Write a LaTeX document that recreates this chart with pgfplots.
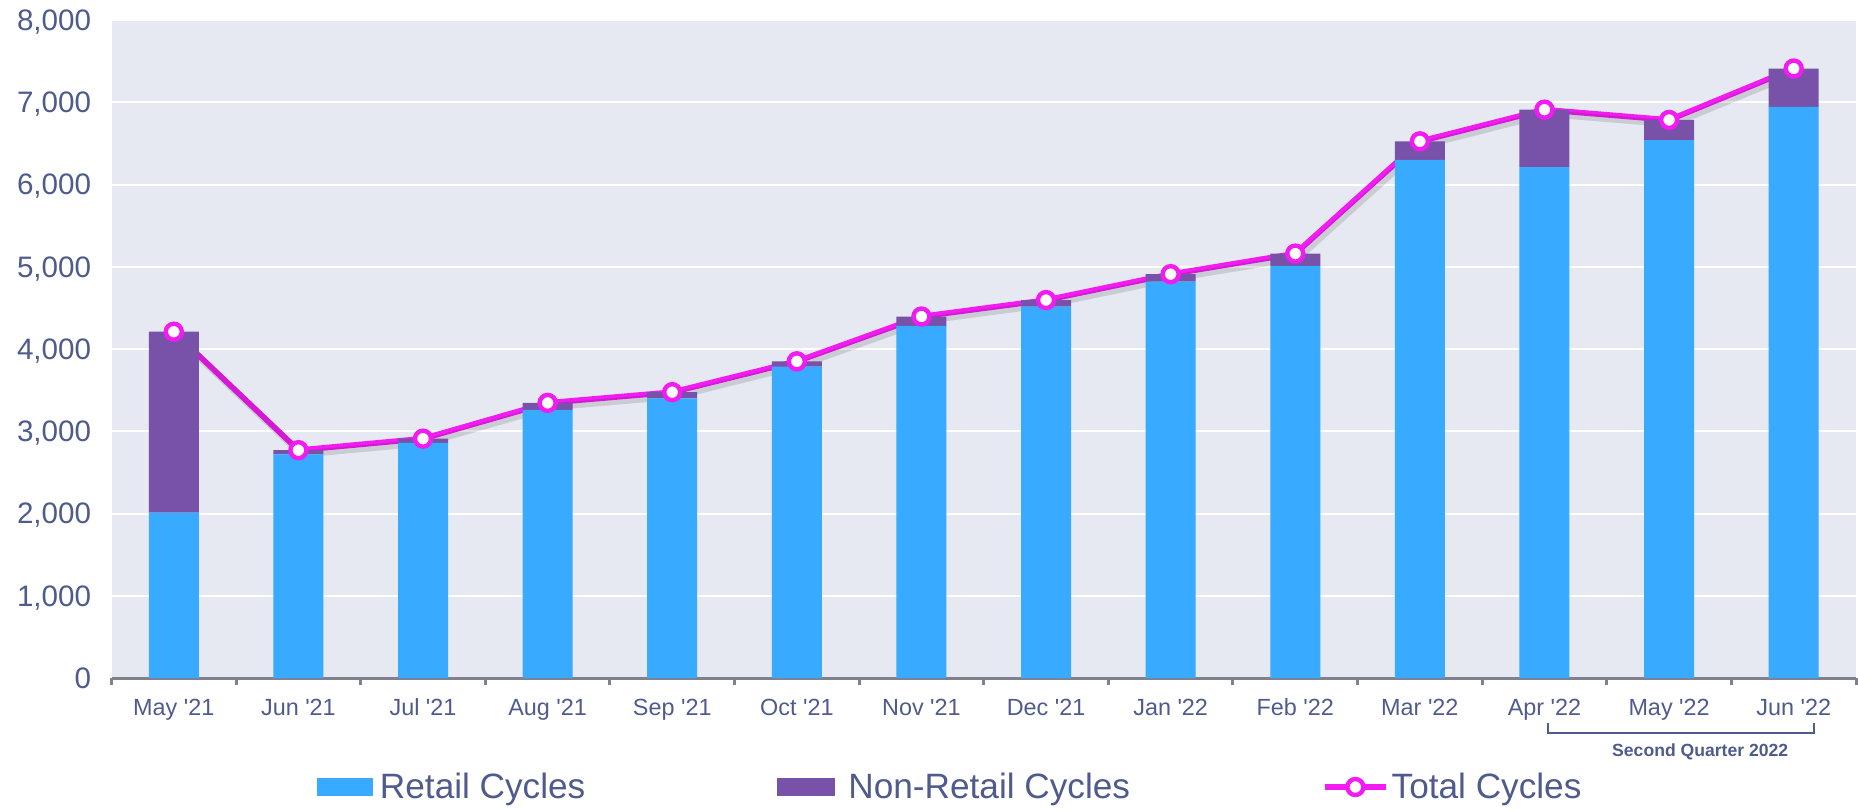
\documentclass[border=0pt]{standalone}
\usepackage{pgfplots}
\pgfplotsset{compat=1.18}
\usepackage{fontspec}
\setmainfont{Liberation Sans}
\definecolor{txt}{HTML}{4F5B8D}
\definecolor{retail}{HTML}{38AAFF}
\definecolor{nonretail}{HTML}{7851A8}
\definecolor{total}{HTML}{F21CF2}
\definecolor{plotbg}{HTML}{E6E9F1}
\definecolor{axisgray}{HTML}{80808F}
\begin{document}
\begin{tikzpicture}
\path[use as bounding box] (0,0) rectangle (929pt,404.5pt);
\begin{axis}[
  at={(55.75pt,65.5pt)}, anchor=south west,
  scale only axis, width=872.25pt, height=329pt,
  ybar stacked, bar width=25pt,
  xmin=-0.5, xmax=13.5, ymin=0, ymax=8000,
  enlargelimits=false, clip=false,
  axis background/.style={fill=plotbg},
  axis x line*=bottom, axis y line*=left,
  x axis line style={draw=axisgray, line width=1.5pt},
  y axis line style={draw=none},
  tick align=outside, tick pos=bottom,
  major tick length=0pt,
  xtick={0,...,13},
  xticklabels={May \textquotesingle21,Jun \textquotesingle21,Jul \textquotesingle21,Aug \textquotesingle21,Sep \textquotesingle21,Oct \textquotesingle21,Nov \textquotesingle21,Dec \textquotesingle21,Jan \textquotesingle22,Feb \textquotesingle22,Mar \textquotesingle22,Apr \textquotesingle22,May \textquotesingle22,Jun \textquotesingle22},
  minor xtick={-0.5,0.5,...,13.5},
  minor tick length=3.5pt,
  minor tick style={draw=axisgray, line width=1.5pt},
  ytick={0,1000,...,8000},
  ymajorgrids, major grid style={draw=white, line width=1pt},
  /pgf/number format/assume math mode=true,
  /pgf/number format/1000 sep={,},
  yticklabel style={font=\fontsize{14.8}{16}\selectfont, color=txt, anchor=base east, inner sep=0pt, xshift=-10pt, yshift=-5.2pt},
  xticklabel style={font=\fontsize{11.7}{13}\selectfont, color=txt, anchor=base, inner sep=0pt, yshift=-18.5pt},
  legend columns=3,
  legend style={at={(0.1178,-0.1657)}, anchor=west, draw=none, fill=none,
    inner sep=0pt, outer sep=0pt,
    font=\fontsize{17.6}{19}\selectfont, text=txt,
    nodes={inner sep=0pt},
    /tikz/every even column/.append style={column sep=96pt}},
]
\addplot[fill=retail, draw=none,
  legend image code/.code={\fill[retail] (0pt,-4.35pt) rectangle (28pt,4.35pt); \path (31.5pt,0pt);}]
  coordinates {(0,2010) (1,2720) (2,2860) (3,3260) (4,3400) (5,3785) (6,4280) (7,4515) (8,4820) (9,5010) (10,6300) (11,6210) (12,6540) (13,6945)};
\addlegendentry{Retail Cycles}
\addplot[fill=nonretail, draw=none,
  legend image code/.code={\fill[nonretail] (0pt,-4.35pt) rectangle (29pt,4.35pt); \path (35.5pt,0pt);}]
  coordinates {(0,2200) (1,50) (2,50) (3,85) (4,75) (5,65) (6,115) (7,80) (8,90) (9,150) (10,225) (11,700) (12,245) (13,465)};
\addlegendentry{Non-Retail Cycles}
\addplot[sharp plot, stack plots=false, forget plot, draw=black, opacity=0.12, line width=3.5pt,
  shift={(1.5pt,-2pt)}]
  coordinates {(0,4210) (1,2770) (2,2910) (3,3345) (4,3475) (5,3850) (6,4395) (7,4595) (8,4910) (9,5160) (10,6525) (11,6910) (12,6785) (13,7410)};
\addplot[sharp plot, stack plots=false, color=total, line width=2.8pt,
  mark=*, mark size=4pt, mark options={fill=white, draw=total, line width=2.2pt},
  legend image code/.code={\draw[total, line width=2.8pt] (0pt,0pt) -- (30.5pt,0pt); \draw[total, fill=white, line width=2.2pt] (15.25pt,0pt) circle (4pt); \path (32pt,0pt);}]
  coordinates {(0,4210) (1,2770) (2,2910) (3,3345) (4,3475) (5,3850) (6,4395) (7,4595) (8,4910) (9,5160) (10,6525) (11,6910) (12,6785) (13,7410)};
\addlegendentry{Total Cycles}
\draw[txt, line width=1pt] (axis cs:11.03,-551) -- (axis cs:11.03,-672) -- (axis cs:13.16,-672) -- (axis cs:13.16,-551);
\node[font=\bfseries\fontsize{8.8}{10}\selectfont, text=txt] at (axis cs:12.25,-896) {Second Quarter 2022};
\end{axis}
\end{tikzpicture}
\end{document}
